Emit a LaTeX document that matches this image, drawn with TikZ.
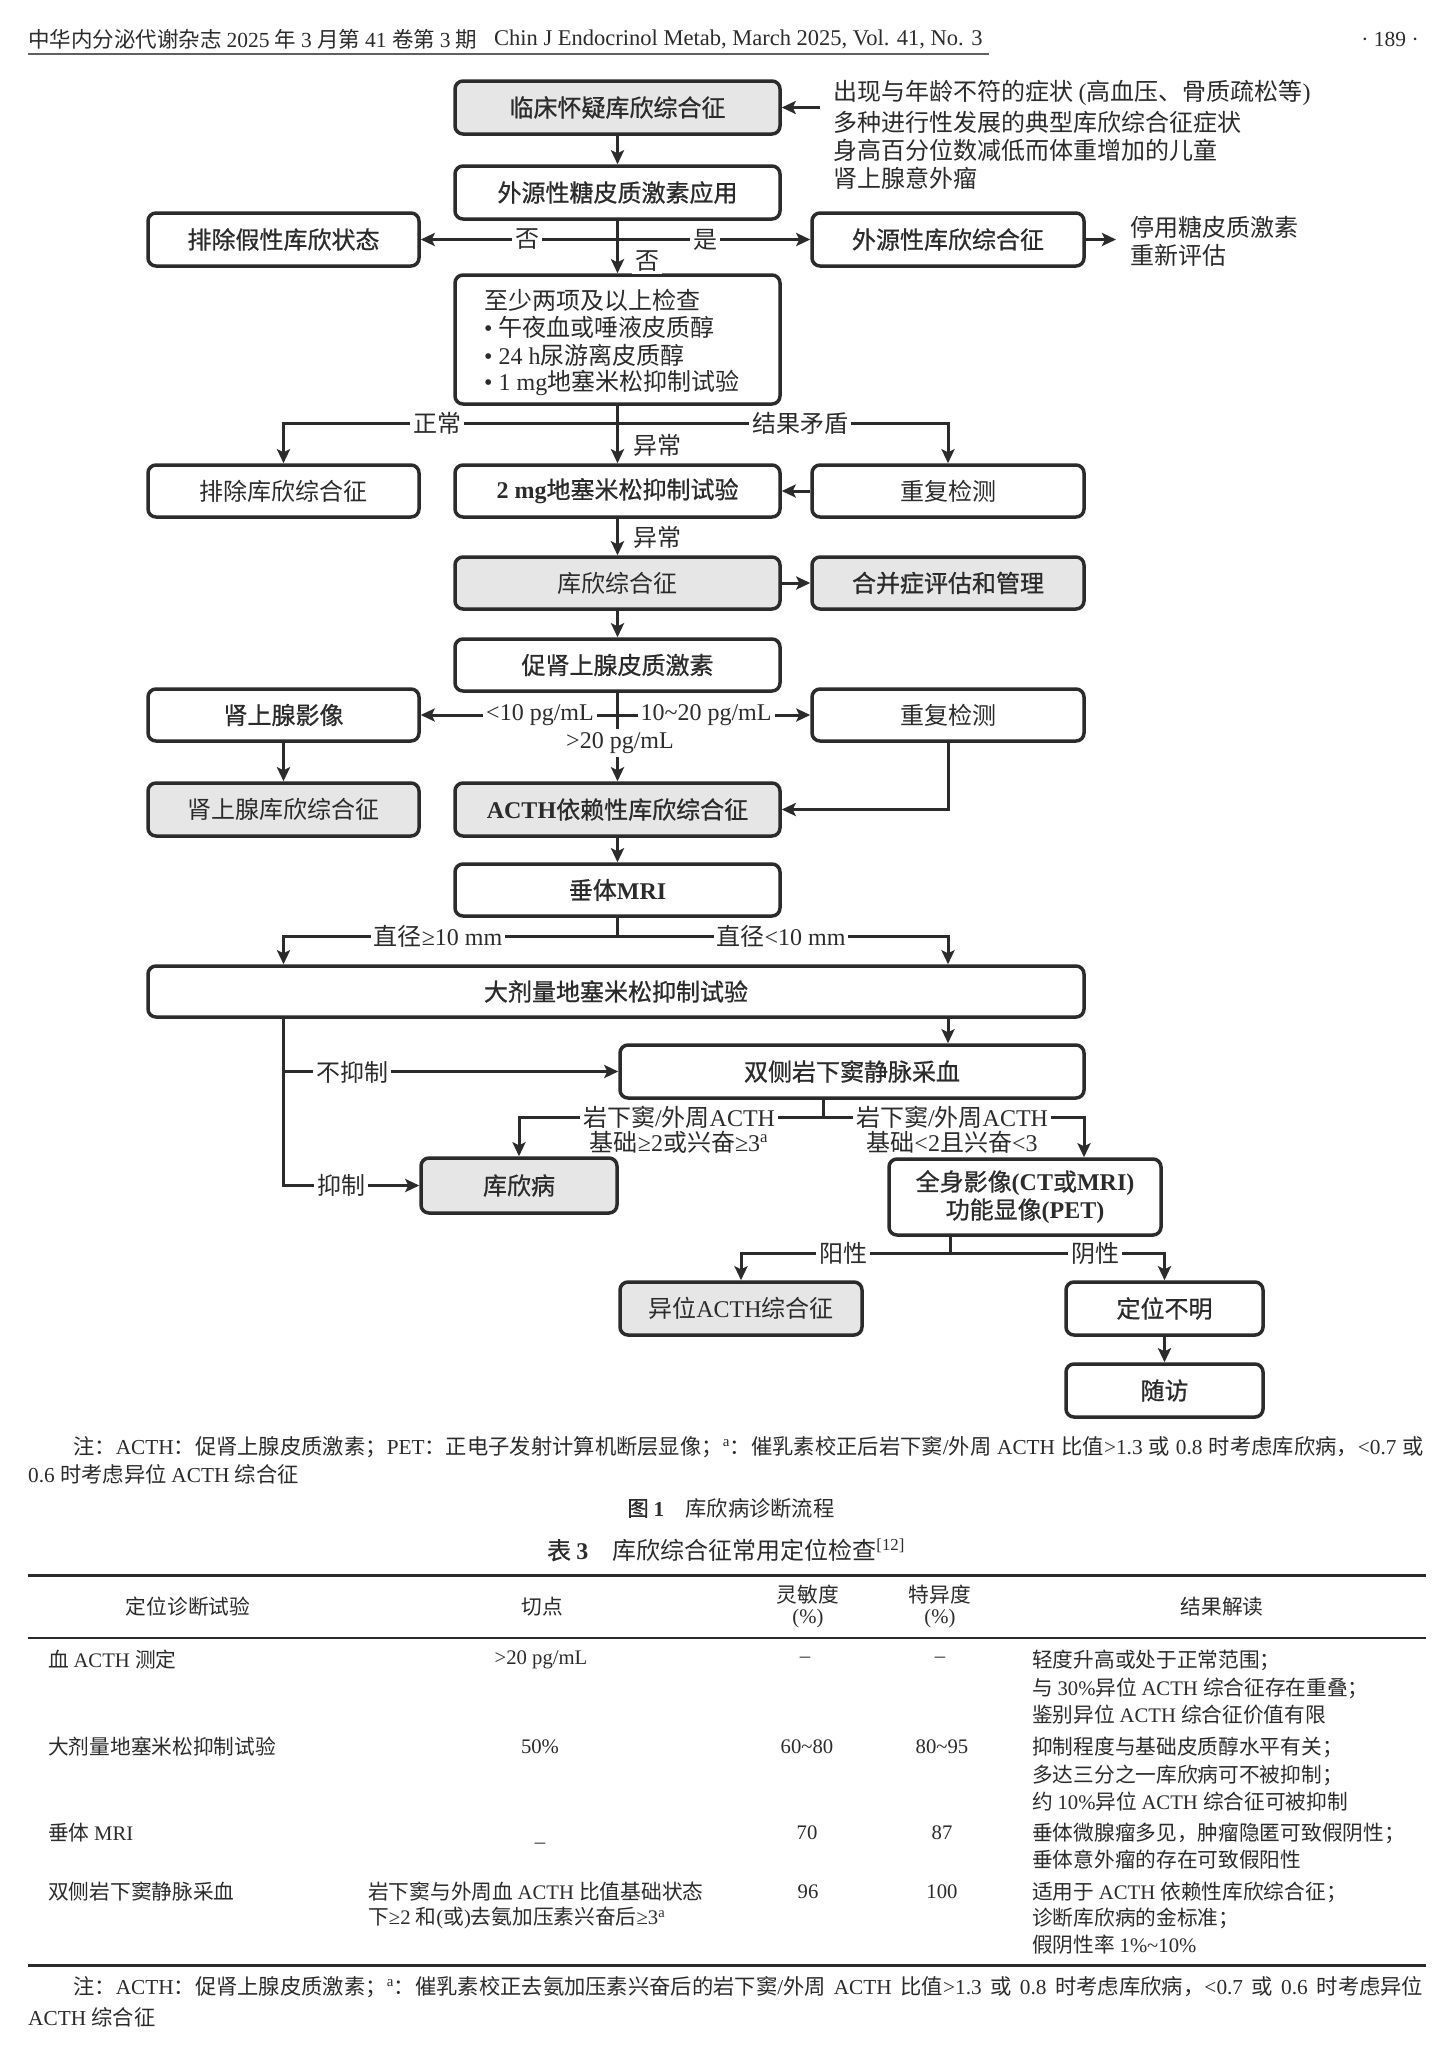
\documentclass[tikz,border=0pt]{standalone}
\usepackage{fontspec}
\setmainfont{Liberation Serif}
\newfontfamily\cjkf{Noto Sans CJK SC}[BoldFont={Noto Sans CJK SC},BoldFeatures={FakeBold=0.8}]
\usetikzlibrary{arrows.meta}
\XeTeXinterchartokenstate=1
\newcount\cjkcnt
\def\setcjkrange#1#2{\cjkcnt=#1\relax\loop\XeTeXcharclass\cjkcnt=7\relax\ifnum\cjkcnt<#2\relax\advance\cjkcnt by 1\repeat}
\setcjkrange{"3000}{"303F}
\setcjkrange{"4E00}{"9FFF}
\setcjkrange{"FF00}{"FFEF}
\XeTeXinterchartoks 0 7 = {\cjkf}
\XeTeXinterchartoks 4095 7 = {\cjkf}
\XeTeXinterchartoks 7 0 = {\rmfamily}
\XeTeXinterchartoks 4095 0 = {\rmfamily}
\definecolor{ink}{HTML}{2B2B2B}
\definecolor{boxfill}{HTML}{E6E6E6}
\newcommand\fsBox{\fontsize{24}{28}\selectfont}
\newcommand\fsTab{\fontsize{20.7}{25}\selectfont}
\newcommand\fsNote{\fontsize{21.3}{25}\selectfont}
\newcommand\fsHead{\fontsize{21.5}{25}\selectfont}
\tikzset{
  fbox/.style={draw=ink, line width=3.5pt, rounded corners=8pt, fill=white, inner sep=0pt, text=ink, font=\fsBox},
  fboxb/.style={fbox, font=\fsBox\bfseries},
  gbox/.style={fbox, fill=boxfill},
  gboxb/.style={fboxb, fill=boxfill},
  arr/.style={line width=3pt, draw=ink, -{Stealth[length=14pt,width=13pt,inset=3pt]}},
  ln/.style={line width=3pt, draw=ink},
  lab/.style={fill=white, inner sep=3pt, text=ink, font=\fsBox},
  txt/.style={inner sep=0pt, text=ink},
}
\begin{document}
\begin{tikzpicture}[x=1pt,y=-1pt]
\fill[white] (0,0) rectangle (1452,2053);
\useasboundingbox (0,0) rectangle (1452,2053);

% ---------- header ----------
\node[txt,font=\fsHead,anchor=west] (h1) at (28,39) {中华内分泌代谢杂志 2025 年 3 月第 41 卷第 3 期};
\node[txt,font=\fontsize{22.5}{26}\selectfont,anchor=west] (h2) at (494,39) {Chin J Endocrinol Metab, March 2025, Vol. 41, No. 3};
\node[txt,font=\fsHead] (h3) at (1390,39) {· 189 ·};
\draw[draw=ink!75, line width=2.5pt] (28,54) -- (989,54);

% ---------- flowchart boxes ----------
\node[gboxb, minimum width=325pt, minimum height=53pt] (A) at (617.5,107.5) {临床怀疑库欣综合征};
\node[fboxb, minimum width=325pt, minimum height=53pt] (B) at (617.5,192.5) {外源性糖皮质激素应用};
\node[fboxb, minimum width=271pt, minimum height=53pt] (C) at (283.5,239.5) {排除假性库欣状态};
\node[fboxb, minimum width=272pt, minimum height=53pt] (D) at (948,239.5) {外源性库欣综合征};
\node[fbox, minimum width=325pt, minimum height=129pt] (E) at (617.5,339.5) {};
\node[fboxb, minimum width=325pt, minimum height=52pt] (F) at (617.5,491) {2 mg地塞米松抑制试验};
\node[fbox, minimum width=272pt, minimum height=52pt] (G) at (948,491) {重复检测};
\node[fbox, minimum width=271pt, minimum height=52pt] (H) at (283.5,491) {排除库欣综合征};
\node[gbox, minimum width=325pt, minimum height=52pt] (I) at (617.5,583) {库欣综合征};
\node[gboxb, minimum width=272pt, minimum height=52pt] (J) at (948,583) {合并症评估和管理};
\node[fboxb, minimum width=325pt, minimum height=52pt] (K) at (617.5,665) {促肾上腺皮质激素};
\node[fboxb, minimum width=271pt, minimum height=52pt] (L) at (283.5,715) {肾上腺影像};
\node[fbox, minimum width=272pt, minimum height=52pt] (M) at (948,715) {重复检测};
\node[gbox, minimum width=271pt, minimum height=53pt] (N) at (283.5,809.5) {肾上腺库欣综合征};
\node[gboxb, minimum width=325pt, minimum height=53pt] (O) at (617.5,809.5) {ACTH依赖性库欣综合征};
\node[fboxb, minimum width=325pt, minimum height=52pt] (P) at (617.5,890) {垂体MRI};
\node[fboxb, minimum width=936pt, minimum height=51pt] (Q) at (616,991.5) {大剂量地塞米松抑制试验};
\node[fboxb, minimum width=464pt, minimum height=53pt] (R) at (852,1071.5) {双侧岩下窦静脉采血};
\node[gboxb, minimum width=196pt, minimum height=55pt] (S) at (519,1185.5) {库欣病};
\node[fboxb, minimum width=272pt, minimum height=76pt, align=center] (T) at (1025,1197) {全身影像(CT或MRI)\\功能显像(PET)};
\node[gbox, minimum width=242pt, minimum height=53pt] (U) at (741,1308.5) {异位ACTH综合征};
\node[fboxb, minimum width=197pt, minimum height=53pt] (V) at (1164.5,1308.5) {定位不明};
\node[fboxb, minimum width=197pt, minimum height=53pt] (W) at (1164.5,1390.5) {随访};

% text inside E
\node[txt,font=\fsBox,anchor=west] (e1) at (484,300) {至少两项及以上检查};
\node[txt,font=\fsBox,anchor=west] (e2) at (484,327) {• 午夜血或唾液皮质醇};
\node[txt,font=\fsBox,anchor=west] (e3) at (484,355) {• 24 h尿游离皮质醇};
\node[txt,font=\fsBox,anchor=west] (e4) at (484,383) {• 1 mg地塞米松抑制试验};

% side texts
\node[txt,font=\fsBox,anchor=west] (l1) at (833,93) {出现与年龄不符的症状 (高血压、骨质疏松等)};
\node[txt,font=\fsBox,anchor=west] (l2) at (833,122) {多种进行性发展的典型库欣综合征症状};
\node[txt,font=\fsBox,anchor=west] (l3) at (833,150) {身高百分位数减低而体重增加的儿童};
\node[txt,font=\fsBox,anchor=west] (l4) at (833,178) {肾上腺意外瘤};
\node[txt,font=\fsBox,anchor=west] (s1) at (1130,227) {停用糖皮质激素};
\node[txt,font=\fsBox,anchor=west] (s2) at (1130,255) {重新评估};

% ---------- connectors ----------
\coordinate (lt) at (820,107.5);
\draw[arr] (lt) -- (A.east);
\draw[arr] (A.south) -- (B.north);
\draw[arr] (B.south) -- (E.north);
\coordinate (x1) at (617.5,239.5);
\draw[arr] (x1) -- (C.east);
\draw[arr] (x1) -- (D.west);
\coordinate (dt) at (1116,239.5);
\draw[arr] (D.east) -- (dt);

\coordinate (x2) at (617.5,423);
\draw[arr] (E.south) -- (F.north);
\draw[arr] (x2) -| (H.north);
\draw[arr] (x2) -| (G.north);
\draw[arr] (G.west) -- (F.east);
\draw[arr] (F.south) -- (I.north);
\draw[arr] (I.east) -- (J.west);
\draw[arr] (I.south) -- (K.north);
\draw[arr] (K.south) -- (O.north);
\coordinate (x3) at (617.5,715);
\draw[arr] (x3) -- (L.east);
\draw[arr] (x3) -- (M.west);
\draw[arr] (L.south) -- (N.north);
\draw[arr] (M.south) |- (O.east);
\draw[arr] (O.south) -- (P.north);
\coordinate (x4) at (617.5,936);
\draw[ln] (P.south) -- (x4);
\draw[arr] (x4) -| (L.center |- Q.north);
\draw[arr] (x4) -| (M.center |- Q.north);
\draw[arr] (L.center |- Q.south) |- (S.west);
\draw[arr] (L.center |- R.west) -- (R.west);
\draw[arr] (M.center |- Q.south) -- (M.center |- R.north);
\coordinate (x5) at (823,1117);
\coordinate (x5r) at (1084,1117);
\draw[ln] (x5 |- R.south) -- (x5);
\draw[arr] (x5) -| (S.north);
\draw[arr] (x5) -- (x5r) -- (x5r |- T.north);
\coordinate (x6) at (950,1253);
\draw[ln] (x6 |- T.south) -- (x6);
\draw[arr] (x6) -| (U.north);
\draw[arr] (x6) -| (V.north);
\draw[arr] (V.south) -- (W.north);

% ---------- connector labels ----------
\node[lab] (n1) at (527,239.5) {否};
\node[lab] (n2) at (705,239.5) {是};
\node[lab] (n3) at (647,261) {否};
\node[lab] (n4) at (437,423) {正常};
\node[lab] (n5) at (800,423) {结果矛盾};
\node[lab] (n6) at (657,445) {异常};
\node[lab] (n7) at (657,537) {异常};
\node[lab] (n8) at (540,715) {<10 pg/mL};
\node[lab] (n9) at (706,715) {10\textasciitilde20 pg/mL};
\node[lab] (n10) at (620,743) {>20 pg/mL};
\node[lab] (n11) at (438,936) {直径≥10 mm};
\node[lab] (n12) at (781,936) {直径<10 mm};
\node[lab] (n13) at (352,1072) {不抑制};
\node[lab] (n14) at (341,1185) {抑制};
\node[lab, align=center, font=\fontsize{24}{25}\selectfont] (n15) at (679,1129.5) {岩下窦/外周ACTH\\基础≥2或兴奋≥3\textsuperscript{a}};
\node[lab, align=center, font=\fontsize{24}{25}\selectfont] (n16) at (952,1129.5) {岩下窦/外周ACTH\\基础<2且兴奋<3};
\node[lab] (n17) at (843,1253) {阳性};
\node[lab] (n18) at (1095,1253) {阴性};

% ---------- figure note and caption ----------
\node[txt,font=\fsNote,anchor=west] (fn1) at (73,1447) {\makebox[1351pt][s]{注：ACTH：促肾上腺皮质激素；PET：正电子发射计算机断层显像；\textsuperscript{a}：催乳素校正后岩下窦/外周 ACTH 比值>1.3 或 0.8 时考虑库欣病，<0.7 或}};
\node[txt,font=\fsNote,anchor=west] (fn2) at (28,1474) {0.6 时考虑异位 ACTH 综合征};
\node[txt,font=\fsNote] (cap) at (731,1508) {{\bfseries 图 1}\quad 库欣病诊断流程};
\node[txt,font=\fontsize{24}{28}\selectfont] (tt) at (726,1550) {{\bfseries 表 3}\quad 库欣综合征常用定位检查\textsuperscript{[12]}};

% ---------- table ----------
\draw[draw=ink, line width=3pt] (28,1575) -- (1426,1575);
\draw[draw=ink, line width=1.5pt] (28,1638) -- (1426,1638);
\draw[draw=ink, line width=3pt] (28,1965) -- (1426,1965);
\begin{scope}[every node/.style={txt,font=\fsTab}]
\node (c1) at (188,1607) {定位诊断试验};
\node (c2) at (542,1607) {切点};
\node (c3) at (808,1595) {灵敏度};
\node (c3b) at (808,1619) {(\%)};
\node (c4) at (940,1595) {特异度};
\node (c4b) at (940,1619) {(\%)};
\node (c5) at (1222,1607) {结果解读};

\node[anchor=west] (r1a) at (48,1660) {血 ACTH 测定};
\node (r1b) at (541,1660) {>20 pg/mL};
\node (r1c) at (805,1660) {–};
\node (r1d) at (940,1660) {–};
\node[anchor=west] (r1e) at (1032,1660) {轻度升高或处于正常范围；};
\node[anchor=west] (r1f) at (1032,1688) {与 30\%异位 ACTH 综合征存在重叠；};
\node[anchor=west] (r1g) at (1032,1715) {鉴别异位 ACTH 综合征价值有限};

\node[anchor=west] (r2a) at (48,1747) {大剂量地塞米松抑制试验};
\node (r2b) at (540,1747) {50\%};
\node (r2c) at (807,1747) {60\textasciitilde80};
\node (r2d) at (942,1747) {80\textasciitilde95};
\node[anchor=west] (r2e) at (1032,1747) {抑制程度与基础皮质醇水平有关；};
\node[anchor=west] (r2f) at (1032,1775) {多达三分之一库欣病可不被抑制；};
\node[anchor=west] (r2g) at (1032,1802) {约 10\%异位 ACTH 综合征可被抑制};

\node[anchor=west] (r3a) at (48,1833) {垂体 MRI};
\node (r3b) at (540,1846) {–};
\node (r3c) at (807,1833) {70};
\node (r3d) at (942,1833) {87};
\node[anchor=west] (r3e) at (1032,1833) {垂体微腺瘤多见，肿瘤隐匿可致假阴性；};
\node[anchor=west] (r3f) at (1032,1860) {垂体意外瘤的存在可致假阳性};

\node[anchor=west] (r4a) at (48,1892) {双侧岩下窦静脉采血};
\node[anchor=west] (r4b) at (368,1892) {岩下窦与外周血 ACTH 比值基础状态};
\node[anchor=west] (r4b2) at (368,1918) {下≥2 和(或)去氨加压素兴奋后≥3\textsuperscript{a}};
\node (r4c) at (808,1892) {96};
\node (r4d) at (942,1892) {100};
\node[anchor=west] (r4e) at (1032,1892) {适用于 ACTH 依赖性库欣综合征；};
\node[anchor=west] (r4f) at (1032,1918) {诊断库欣病的金标准；};
\node[anchor=west] (r4g) at (1032,1945) {假阴性率 1\%\textasciitilde10\%};
\end{scope}

% ---------- table note ----------
\node[txt,font=\fsNote,anchor=west] (tn1) at (73,1987) {\makebox[1350pt][s]{注：ACTH：促肾上腺皮质激素；\textsuperscript{a}：催乳素校正去氨加压素兴奋后的岩下窦/外周 ACTH 比值>1.3 或 0.8 时考虑库欣病，<0.7 或 0.6 时考虑异位}};
\node[txt,font=\fsNote,anchor=west] (tn2) at (28,2017) {ACTH 综合征};
\end{tikzpicture}
\end{document}
